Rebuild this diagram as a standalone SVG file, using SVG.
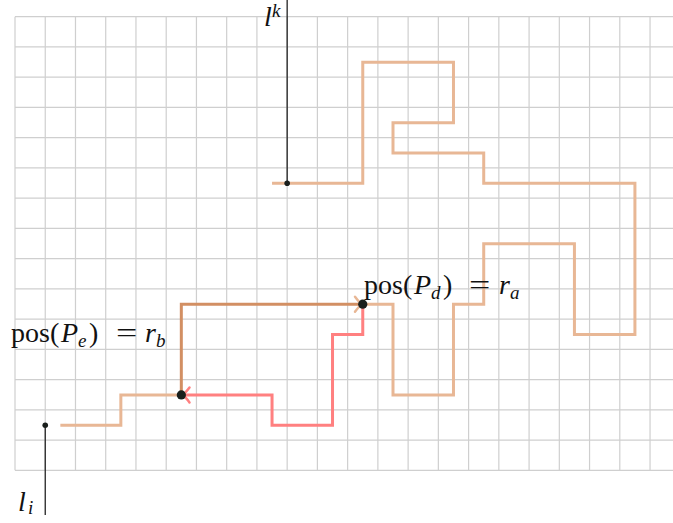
<svg xmlns="http://www.w3.org/2000/svg" width="673" height="523" viewBox="0 0 673 523">
<style>
.grid line{stroke:#cfcfcf;stroke-width:1.2}
.path{fill:none;stroke-width:3;stroke-linejoin:miter}
.or{stroke:#e8b795}
.br{stroke:#d28f63}
.rd{stroke:#ff8080}
.ax{stroke:#222;stroke-width:1.3}
.t{font-family:"Liberation Serif",serif;fill:#111;font-size:28px}
.s{font-family:"Liberation Serif",serif;fill:#111;font-size:19px;font-style:italic}
.it{font-style:italic}
</style>
<rect width="673" height="523" fill="#fff"/>
<g class="grid" id="grid">
<line x1="15" y1="16.7" x2="15" y2="470.3"/><line x1="45.24" y1="16.7" x2="45.24" y2="470.3"/><line x1="75.48" y1="16.7" x2="75.48" y2="470.3"/><line x1="105.72" y1="16.7" x2="105.72" y2="470.3"/><line x1="135.96" y1="16.7" x2="135.96" y2="470.3"/><line x1="166.2" y1="16.7" x2="166.2" y2="470.3"/><line x1="196.44" y1="16.7" x2="196.44" y2="470.3"/><line x1="226.68" y1="16.7" x2="226.68" y2="470.3"/><line x1="256.92" y1="16.7" x2="256.92" y2="470.3"/><line x1="287.16" y1="16.7" x2="287.16" y2="470.3"/><line x1="317.4" y1="16.7" x2="317.4" y2="470.3"/><line x1="347.64" y1="16.7" x2="347.64" y2="470.3"/><line x1="377.88" y1="16.7" x2="377.88" y2="470.3"/><line x1="408.12" y1="16.7" x2="408.12" y2="470.3"/><line x1="438.36" y1="16.7" x2="438.36" y2="470.3"/><line x1="468.6" y1="16.7" x2="468.6" y2="470.3"/><line x1="498.84" y1="16.7" x2="498.84" y2="470.3"/><line x1="529.08" y1="16.7" x2="529.08" y2="470.3"/><line x1="559.32" y1="16.7" x2="559.32" y2="470.3"/><line x1="589.56" y1="16.7" x2="589.56" y2="470.3"/><line x1="619.8" y1="16.7" x2="619.8" y2="470.3"/><line x1="650.04" y1="16.7" x2="650.04" y2="470.3"/>
<line x1="15" y1="16.7" x2="673" y2="16.7"/><line x1="15" y1="46.94" x2="673" y2="46.94"/><line x1="15" y1="77.18" x2="673" y2="77.18"/><line x1="15" y1="107.42" x2="673" y2="107.42"/><line x1="15" y1="137.66" x2="673" y2="137.66"/><line x1="15" y1="167.9" x2="673" y2="167.9"/><line x1="15" y1="198.14" x2="673" y2="198.14"/><line x1="15" y1="228.38" x2="673" y2="228.38"/><line x1="15" y1="258.62" x2="673" y2="258.62"/><line x1="15" y1="288.86" x2="673" y2="288.86"/><line x1="15" y1="319.1" x2="673" y2="319.1"/><line x1="15" y1="349.34" x2="673" y2="349.34"/><line x1="15" y1="379.58" x2="673" y2="379.58"/><line x1="15" y1="409.82" x2="673" y2="409.82"/><line x1="15" y1="440.06" x2="673" y2="440.06"/><line x1="15" y1="470.3" x2="673" y2="470.3"/>
</g>
<g id="connectors">
<path class="path or" d="M272.04,183.26 H362.76 V62.3 H453.48 V122.78 H393 V153.02 H483.72 V183.26 H634.92 V334.46 H574.44 V243.74 H483.72 V304.22 H453.48 V394.94 H393 V304.22 H362.76"/>
<path class="path or" d="M60.36,425.18 H120.84 V394.94 H181.32"/>
<path class="path rd" d="M362.76,304.22 V334.46 H332.52 V425.18 H272.04 V394.94 H183"/>
<path class="path br" d="M181.32,394.94 V304.22 H361"/>
<path fill="none" stroke="#ff8080" stroke-width="2.5" stroke-linecap="round" d="M189.5,387.5 Q185,393.5 182.5,394.94 Q185,396.4 189.5,402.4"/>
<path fill="none" stroke="#e8b795" stroke-width="2.5" stroke-linecap="round" d="M355,296.8 Q359.5,302.8 362,304.22 Q359.5,305.7 355,311.7"/>
<line class="ax" x1="287.16" y1="0" x2="287.16" y2="183.26"/>
<line class="ax" x1="45.24" y1="425.18" x2="45.24" y2="515"/>
</g>
<g id="lk">
<circle cx="287.16" cy="183.26" r="2.8" fill="#1a1f1c"/>
<text class="t it" x="264" y="26">l</text>
<text class="s" x="272" y="17" font-size="17">k</text>
</g>
<g id="li">
<circle cx="45.24" cy="425.18" r="2.8" fill="#1a1f1c"/>
<text class="t it" x="18" y="511">l</text>
<text class="s" x="28" y="514">i</text>
</g>
<g id="Pe">
<circle cx="181.32" cy="394.94" r="4.6" fill="#1a1f1c"/>
<text class="t" x="11" y="342">pos</text>
<text class="t" x="50" y="342">(</text>
<text class="t it" x="61" y="342">P</text>
<text class="s" x="78" y="347">e</text>
<text class="t" x="89" y="342">)</text>
<text class="t" x="116" y="342" transform="translate(116,0) scale(1.35,1) translate(-116,0)">=</text>
<text class="t it" x="145" y="342">r</text>
<text class="s" x="156" y="347">b</text>
</g>
<g id="Pd">
<circle cx="362.76" cy="304.22" r="4.6" fill="#1a1f1c"/>
<text class="t" x="364" y="294">pos</text>
<text class="t" x="403" y="294">(</text>
<text class="t it" x="414" y="294">P</text>
<text class="s" x="431" y="299">d</text>
<text class="t" x="443" y="294">)</text>
<text class="t" x="469" y="294" transform="translate(469,0) scale(1.35,1) translate(-469,0)">=</text>
<text class="t it" x="499" y="294">r</text>
<text class="s" x="510" y="299">a</text>
</g>
</svg>
